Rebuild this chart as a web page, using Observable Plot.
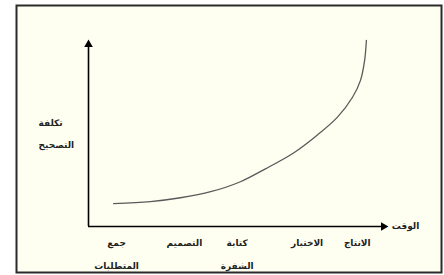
<!DOCTYPE html>
<html><head><meta charset="utf-8">
<script src="https://cdn.jsdelivr.net/npm/d3@7"></script>
<script src="https://cdn.jsdelivr.net/npm/@observablehq/plot@0.6"></script>
<style>
html,body{margin:0;padding:0;background:#fff;}
</style>
</head><body>
<div id="chart"></div>
<script>
// Stages of the software lifecycle (labels along the time axis)
const stageLabels = ["جمع\nالمتطلبات", "التصميم", "كتابة\nالشفرة", "الاختبار", "الانتاج"];
const stageTimes = [0.95, 3.25, 5.04, 7.41, 9.11];
// Cost-of-correction curve (time, cost)
const curveTime = [0.85, 2.1, 3.12, 4.14, 5.15, 6.0, 6.95, 7.76, 8.44, 8.95, 9.22, 9.36, 9.42];
const curveCost = [1.26, 1.37, 1.58, 1.91, 2.46, 3.17, 4.04, 5.03, 6.01, 7.1, 8.03, 9.13, 10.22];
const axisEnd = [10];
const yTitle = "تكلفة\nالتصحيح";
const xTitle = "الوقت";

const curve = curveTime.map((t, i) => ({t, c: curveCost[i]}));
const stages = stageLabels.map((label, i) => ({label, t: stageTimes[i]}));
const font = "DejaVu Sans";

const chart = Plot.plot({
  width: 444,
  height: 275,
  marginLeft: 16,
  marginTop: 5,
  marginRight: 3,
  marginBottom: 3,
  x: {domain: [0, 10], range: [88, 383], axis: null},
  y: {domain: [0, 10], range: [226, 44], axis: null},
  style: {fontFamily: font, background: "#fff"},
  marks: [
    Plot.frame({fill: "#fffff1", stroke: "#2b2b2b", strokeWidth: 2}),
    Plot.ruleY([0], {x1: 0, x2: axisEnd[0], stroke: "#000", strokeWidth: 1.6}),
    Plot.ruleX([0], {y1: 0, y2: axisEnd[0], stroke: "#000", strokeWidth: 1.6}),
    Plot.dot(axisEnd, {x: d => d, y: 0, symbol: "triangle", r: 3.2, fill: "#000", rotate: 90}),
    Plot.dot(axisEnd, {x: 0, y: d => d, symbol: "triangle", r: 3.2, fill: "#000"}),
    Plot.line(curve, {x: "t", y: "c", curve: "catmull-rom", stroke: "#5a5a5a", strokeWidth: 1.3}),
    Plot.text(stages, {x: "t", y: 0, text: "label", dy: 4, lineAnchor: "top", lineHeight: 2.5,
      fontSize: 9, fontWeight: "bold", fill: "#222"}),
    Plot.text([yTitle], {frameAnchor: "left", dx: 22, dy: -9, text: d => d, lineHeight: 2.4,
      fontSize: 9, fontWeight: "bold", fill: "#222"}),
    Plot.text([xTitle], {x: axisEnd[0], y: 0, dx: 22, text: d => d,
      fontSize: 9, fontWeight: "bold", fill: "#222"})
  ]
});
document.getElementById("chart").append(chart);
</script>
</body></html>
